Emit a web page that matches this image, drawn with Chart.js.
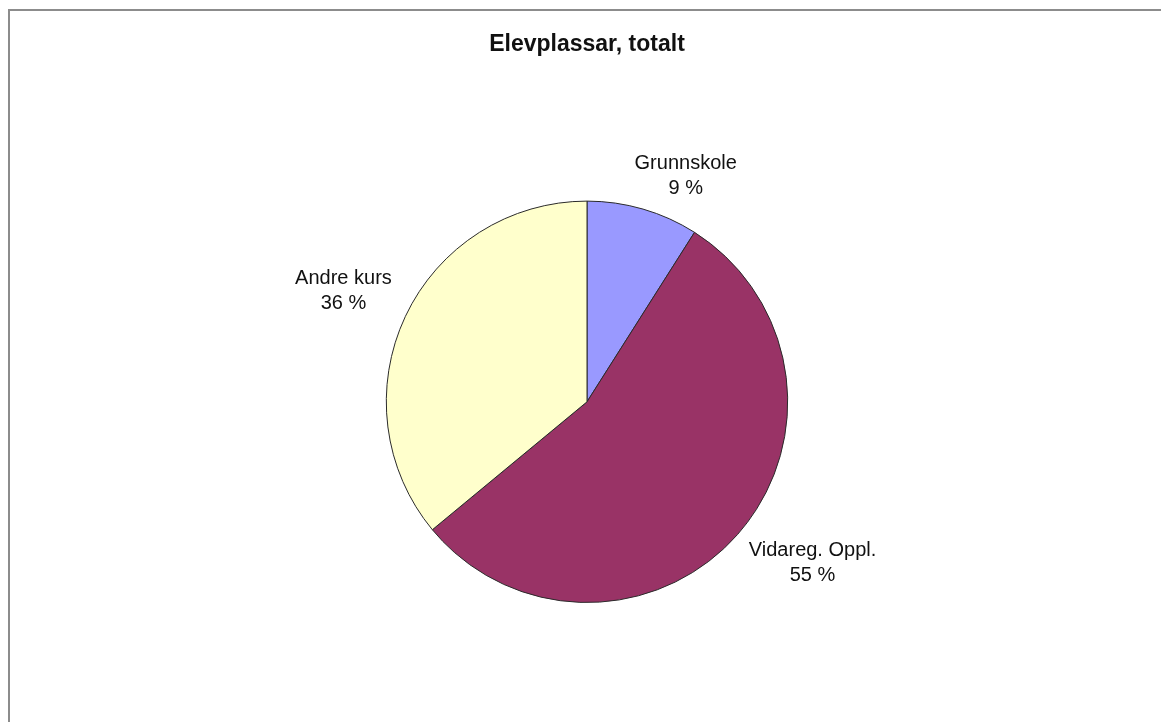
<!DOCTYPE html>
<html>
<head>
<meta charset="utf-8">
<script src="https://cdn.jsdelivr.net/npm/chart.js@4"></script>
<style>
  html, body { margin: 0; padding: 0; background: #fff; overflow: hidden; }
  #ramme { position: absolute; left: 8px; top: 9px; width: 1200px; height: 800px; border: 2px solid #8c8c8c; }
  #holder { position: absolute; left: 0; top: 0; width: 1161px; height: 722px; }
</style>
</head>
<body>
<div id="ramme"></div>
<div id="holder"><canvas id="graf" width="1161" height="722"></canvas></div>
<script>
// Data for kakediagrammet
const kategoriar = ['Grunnskole', 'Vidareg. Oppl.', 'Andre kurs'];
const prosent = [9, 55, 36];
const fargar = ['#9999FF', '#993366', '#FFFFCC'];

// Teiknar etikettane utanfor kvar sektor (namn + prosent)
const etikettPlugin = {
    id: 'etikettar',
    afterDatasetsDraw(chart) {
        const ctx = chart.ctx;
        const meta = chart.getDatasetMeta(0);
        ctx.save();
        ctx.font = '20px "Liberation Sans", Arial, sans-serif';
        ctx.fillStyle = '#111';
        ctx.textAlign = 'center';
        ctx.textBaseline = 'middle';
        meta.data.forEach((arc, i) => {
            const p = arc.getProps(['x', 'y', 'startAngle', 'endAngle', 'outerRadius'], true);
            const midt = (p.startAngle + p.endAngle) / 2;
            const dx = Math.cos(midt), dy = Math.sin(midt);
            const r = p.outerRadius + 15;
            const linjer = [kategoriar[i], prosent[i] + ' %'];
            const b = Math.max(...linjer.map(l => ctx.measureText(l).width));
            const h = 38;
            // skyv boksen ut frå sirkelen, mindre når sektoren peikar nesten rett opp/ned
            const fx = Math.sign(dx) * Math.min(1, Math.abs(dx) * 2.7);
            const cx = p.x + dx * r + fx * b / 2;
            const cy = p.y + dy * r + Math.sign(dy) * h / 2;
            ctx.fillText(linjer[0], cx, cy - 12.5);
            ctx.fillText(linjer[1], cx, cy + 12.5);
        });
        ctx.restore();
    }
};

const ctxKake = document.getElementById('graf').getContext('2d');

const grafKake = new Chart(ctxKake, {
    type: 'pie',
    data: {
        labels: kategoriar,
        datasets: [{
            data: prosent,
            backgroundColor: fargar,
            borderColor: '#2a2a2a',
            borderWidth: 1
        }]
    },
    options: {
        responsive: false,
        animation: false,
        layout: {
            padding: { left: 385, right: 372, top: 0, bottom: 119 }
        },
        plugins: {
            legend: { display: false },
            tooltip: { enabled: false },
            title: {
                display: true,
                text: 'Elevplassar, totalt',
                color: '#111',
                font: { family: '"Liberation Sans", Arial, sans-serif', size: 23, weight: 'bold' },
                padding: { top: 31, bottom: 142 }
            }
        }
    },
    plugins: [etikettPlugin]
});
</script>
</body>
</html>
